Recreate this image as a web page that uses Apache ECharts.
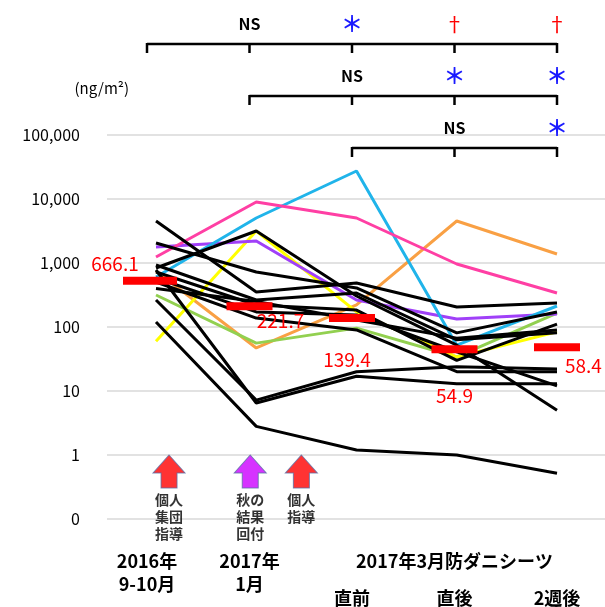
<!DOCTYPE html>
<html>
<head>
<meta charset="utf-8">
<script src="https://cdn.jsdelivr.net/npm/echarts@6/dist/echarts.min.js"></script>
<style>
  html, body { margin: 0; padding: 0; background: #fff; }
  #chart { width: 605px; height: 607px; }
</style>
</head>
<body>
<div id="chart"></div>
<script>
const FONT = '"Noto Sans CJK JP", "Noto Sans", sans-serif';

// x categories (time points)
const periods = ['2016年\n9-10月', '2017年\n1月', '直前', '直後', '2週後'];
const sheetTitle = '2017年3月防ダニシーツ';
// y tick labels, one per decade from 0.1 up to 100000
const yTickLabels = ['0', '1', '10', '100', '1,000', '10,000', '100,000'];

// coloured households (ng/m2)
const pink = [1240, 8980, 5050, 965, 340];
const cyan = [604, 5050, 27400, 52, 213];
const purple = [1780, 2210, 264, 133, 160];
const orange = [750, 47, 221, 4530, 1380];
const yellow = [60, 3160, 172, 34, 84];
const green = [316, 56, 96, 34, 165];

// black households
const blackLines = [
  [4530, 352, 487, 205, 237],
  [2050, 723, 407, 81, 172],
  [835, 3160, 305, 52, 5.0],
  [931, 264, 340, 63, 81],
  [723, 221, 184, 30, 111],
  [583, 172, 154, 41, 12],
  [505, 138, 90, 20, 20],
  [778, 6.5, 17, 13, 13],
  [264, 7.2, 20, 24, 22],
  [120, 2.8, 1.2, 1.0, 0.52],
  [400, 250, 129, 67, 90]
];

// red mean bars (position) and their printed labels
const meanValues = [505, 200, 130, 42, 45];
const meanLabels = ['666.1', '221.7', '139.4', '54.9', '58.4'];

// intervention arrows: position along time axis + text
const arrowPos = [0.13, 0.94, 1.45];
const arrowText = ['個人\n集団\n指導', '秋の\n結果\n回付', '個人\n指導'];
const arrowColors = ['#ff0000', '#cc00ff', '#ff0000'];

// significance brackets: start category per row, and marks above each tick
const sigStarts = [0, 1, 2];
const sigMarks = [
  ['', 'NS', '＊', '†', '†'],
  ['', '', 'NS', '＊', '＊'],
  ['', '', '', 'NS', '＊']
];

// layout for mean labels: dx, dy, align
const meanLabelLayout = [[-32, -17, 'center'], [31, 15, 'center'], [-5, 42, 'center'], [0, 47, 'center'], [8, 19, 'left']];

const markColor = { 'NS': '#000', '＊': '#1a1aff', '†': '#ff0000' };
const markFont = { 'NS': 'bold 16px ' + FONT, '＊': 'bold 22px ' + FONT, '†': '20px ' + FONT };

const chart = echarts.init(document.getElementById('chart'));

function lineSeries(values, color, z) {
  return {
    type: 'line',
    xAxisIndex: 0,
    yAxisIndex: 0,
    data: values.map((v, i) => [i, v]),
    symbol: 'none',
    lineStyle: { color: color, width: 3 },
    z: z,
    silent: true,
    animation: false
  };
}

const series = [
  lineSeries(orange, '#f9a044', 2),
  lineSeries(green, '#92d050', 2),
  lineSeries(yellow, '#ffff00', 2),
  lineSeries(purple, '#a040f8', 2),
  lineSeries(cyan, '#20b4ea', 2),
  lineSeries(pink, '#ff3fa4', 2)
];
blackLines.forEach((vals) => series.push(lineSeries(vals, '#000', 3)));

series.push({
  type: 'custom',
  xAxisIndex: 2,
  yAxisIndex: 2,
  z: 5,
  clip: false,
  data: meanValues.map((v, i) => [i, v]),
  renderItem: function (params, api) {
    const i = params.dataIndex;
    const c = api.coord([api.value(0), api.value(1)]);
    const lay = meanLabelLayout[i];
    const w = i === 0 ? 54 : 46;
    return {
      type: 'group',
      children: [
        { type: 'rect', shape: { x: c[0] - w / 2 + (i === 0 ? 3 : 0), y: c[1] - 4, width: w, height: 8 }, style: { fill: '#ff0000' } },
        {
          type: 'text', x: c[0] + lay[0], y: c[1] + lay[1],
          style: { text: meanLabels[i], fill: '#ff0000', font: '19px ' + FONT, align: lay[2], verticalAlign: 'middle' }
        }
      ]
    };
  }
});

series.push({
  type: 'scatter',
  xAxisIndex: 0,
  yAxisIndex: 0,
  z: 4,
  symbol: 'path://M16,0 L32,18 L24,18 L24,33 L8,33 L8,18 L0,18 Z',
  symbolSize: [32, 33],
  symbolOffset: [0, '50%'],
  data: arrowPos.map((x, i) => ({
    value: [x, 1],
    itemStyle: { color: arrowColors[i], borderColor: '#5b6fa6', borderWidth: 1 },
    label: {
      show: true, position: 'bottom', distance: 3, formatter: arrowText[i],
      fontFamily: FONT, fontSize: 14, fontWeight: 'bold', lineHeight: 17, color: '#000'
    }
  })),
  silent: true
});

series.push({
  type: 'custom',
  xAxisIndex: 1,
  yAxisIndex: 1,
  clip: false,
  data: sigStarts.map((s, r) => [s, r]),
  renderItem: function (params, api) {
    const start = api.value(0);
    const row = api.value(1);
    const p0 = api.coord([start, row]);
    const p1 = api.coord([periods.length - 1, row]);
    const children = [{
      type: 'line', shape: { x1: p0[0], y1: p0[1], x2: p1[0], y2: p1[1] },
      style: { stroke: '#000', lineWidth: 2.5 }
    }];
    for (let i = start; i < periods.length; i++) {
      const p = api.coord([i, row]);
      children.push({
        type: 'line', shape: { x1: p[0], y1: p[1] - 1, x2: p[0], y2: p[1] + 9 },
        style: { stroke: '#000', lineWidth: 2.5 }
      });
      const m = sigMarks[row][i];
      if (m) {
        children.push({
          type: 'text', x: p[0], y: p[1] - 20,
          style: { text: m, fill: markColor[m], font: markFont[m], align: 'center', verticalAlign: 'middle' }
        });
      }
    }
    return { type: 'group', children: children };
  }
});

chart.setOption({
  backgroundColor: '#fff',
  animation: false,
  grid: [
    { left: 107, right: 0, top: 135, bottom: 88 },
    { left: 147, right: 48, top: 44, height: 104 },
    { left: 147, right: 48, top: 135, bottom: 88 }
  ],
  xAxis: [
    { type: 'value', gridIndex: 0, min: -0.4888, max: 4.4788, show: false },
    { type: 'category', gridIndex: 1, data: periods, boundaryGap: false, show: false },
    {
      type: 'category', gridIndex: 2, data: periods, boundaryGap: false,
      axisLine: { show: false }, axisTick: { show: false },
      axisLabel: {
        margin: 34, interval: 0, color: '#000',
        fontFamily: FONT, fontSize: 18, fontWeight: 'bold',
        formatter: function (v, idx) {
          const parts = v.split('\n');
          if (parts.length > 1) return '{a|' + parts[0] + '}\n{a|' + parts[1] + '}';
          const top = idx === 3 ? sheetTitle : ' ';
          return '{a|' + top + '}\n{b|' + v + '}';
        },
        rich: {
          a: { fontFamily: FONT, fontSize: 18, fontWeight: 'bold', lineHeight: 23, color: '#000' },
          b: { fontFamily: FONT, fontSize: 18, fontWeight: 'bold', lineHeight: 51, color: '#000' }
        }
      }
    }
  ],
  yAxis: [
    {
      type: 'log', gridIndex: 0, logBase: 10, min: 0.1, max: 100000, interval: 1,
      name: '(ng/m²)', nameLocation: 'end', nameGap: 39,
      nameTextStyle: { fontFamily: FONT, fontSize: 15, color: '#000', align: 'right', padding: [0, 27, 0, 0] },
      axisLine: { show: false }, axisTick: { show: false },
      splitLine: { lineStyle: { color: '#d9d9d9', width: 1.5 } },
      axisLabel: {
        margin: 27, color: '#000', fontFamily: FONT, fontSize: 16,
        formatter: function (v) {
          return yTickLabels[Math.round(Math.log10(v)) + 1];
        }
      }
    },
    { type: 'value', gridIndex: 1, min: 0, max: 2, inverse: true, show: false },
    { type: 'log', gridIndex: 2, logBase: 10, min: 0.1, max: 100000, show: false }
  ],
  series: series
});
</script>
</body>
</html>
